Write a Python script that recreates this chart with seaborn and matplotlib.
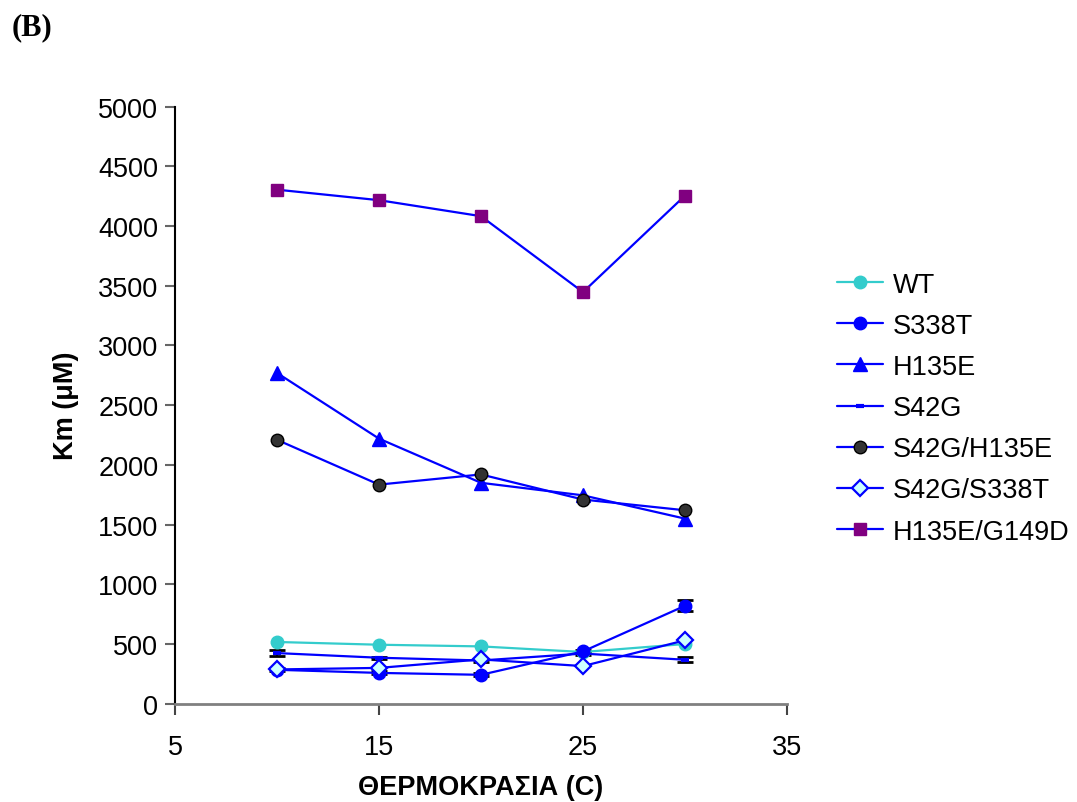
import matplotlib
matplotlib.use("Agg")
import matplotlib.pyplot as plt
import seaborn as sns
import pandas as pd

# Temperatures (°C) and Km values (µM) for each enzyme variant
temperature = [10, 15, 20, 25, 30]
wt = [517, 494, 480, 433, 500]
s338t = [284, 258, 242, 438, 820]
h135e = [2770, 2220, 1850, 1745, 1550]
s42g = [424, 385, 362, 420, 368]
s42g_h135e = [2210, 1835, 1920, 1710, 1620]
s42g_s338t = [287, 300, 371, 315, 531]
h135e_g149d = [4305, 4217, 4083, 3447, 4255]

# Standard deviations shown as error bars
s338t_err = [12, 12, 12, 10, 45]
s42g_err = [22, 10, 12, 12, 22]

series_names = ["WT", "S338T", "H135E", "S42G", "S42G/H135E", "S42G/S338T", "H135E/G149D"]
series_values = [wt, s338t, h135e, s42g, s42g_h135e, s42g_s338t, h135e_g149d]

x_ticks = [5, 15, 25, 35]
y_ticks = [0, 500, 1000, 1500, 2000, 2500, 3000, 3500, 4000, 4500, 5000]

sns.set_theme(style="white")
plt.rcParams["font.family"] = ["Liberation Sans", "DejaVu Sans"]
plt.rcParams["text.color"] = "black"
plt.rcParams["axes.labelcolor"] = "black"

df = pd.DataFrame(
    [(name, t, v) for name, vals in zip(series_names, series_values)
     for t, v in zip(temperature, vals)],
    columns=["variant", "temp", "km"],
)

styles = {
    "WT": dict(color="#33CCCC", marker="o", markersize=9, mfc="#33CCCC", mec="#33CCCC", mew=1),
    "S338T": dict(color="#0000FF", marker="o", markersize=9, mfc="#0000FF", mec="#0000FF", mew=1),
    "H135E": dict(color="#0000FF", marker="^", markersize=10, mfc="#0000FF", mec="#0000FF", mew=1),
    "S42G": dict(color="#0000FF", marker="_", markersize=6, mfc="#0000FF", mec="#0000FF", mew=3),
    "S42G/H135E": dict(color="#0000FF", marker="o", markersize=9, mfc="#333333", mec="#000000", mew=1),
    "S42G/S338T": dict(color="#0000FF", marker="D", markersize=8, mfc="#CCFFFF", mec="#0000FF", mew=1.6),
    "H135E/G149D": dict(color="#0000FF", marker="s", markersize=9, mfc="#800080", mec="#800080", mew=1),
}

fig = plt.figure(figsize=(10.77, 8.03), dpi=100)
ax = fig.add_axes([0.1625, 0.1224, 0.5682, 0.7435])

# error bars drawn beneath the series lines
for vals, err in [(s338t, s338t_err), (s42g, s42g_err)]:
    ax.errorbar(temperature, vals, yerr=err, fmt="none", ecolor="black",
                elinewidth=1.5, capsize=6, capthick=2, zorder=2)

for name in series_names:
    st = styles[name]
    sub = df[df["variant"] == name]
    sns.lineplot(data=sub, x="temp", y="km", ax=ax, label=name,
                 color=st["color"], linewidth=1.6, marker=st["marker"],
                 markersize=st["markersize"], markerfacecolor=st["mfc"],
                 markeredgecolor=st["mec"], markeredgewidth=st["mew"],
                 zorder=3)

ax.set_xlim(5, 35)
ax.set_ylim(0, 5000)
ax.set_xticks(x_ticks)
ax.set_yticks(y_ticks)
ax.tick_params(axis="y", which="major", direction="out", length=7, width=1.5,
               color="#666666", labelcolor="black", labelsize=19.5, pad=5, left=True)
ax.tick_params(axis="x", which="major", direction="out", length=8, width=1.5,
               color="#444444", labelcolor="black", labelsize=19.5, pad=14, bottom=True)

for side in ["top", "right"]:
    ax.spines[side].set_visible(False)
ax.spines["left"].set_color("black")
ax.spines["left"].set_linewidth(1.5)
ax.spines["bottom"].set_color("#808080")
ax.spines["bottom"].set_linewidth(2)

ax.set_xlabel("ΘΕΡΜΟΚΡΑΣΙΑ (C)", fontsize=19.5, fontweight="bold", labelpad=10)
ax.set_ylabel("Km (μM)", fontsize=19.5, fontweight="bold", labelpad=14)

leg = ax.legend(loc="upper left", bbox_to_anchor=(0.767, 0.674), bbox_transform=fig.transFigure,
                frameon=False, fontsize=19.5, handlelength=1.7, handletextpad=0.35,
                labelspacing=0.56, borderaxespad=0)

fig.text(0.011, 0.966, "(B)", fontsize=22, fontweight="bold",
         family=["Liberation Serif", "DejaVu Serif"], va="center", ha="left")

fig.savefig("out.png", dpi=100)
